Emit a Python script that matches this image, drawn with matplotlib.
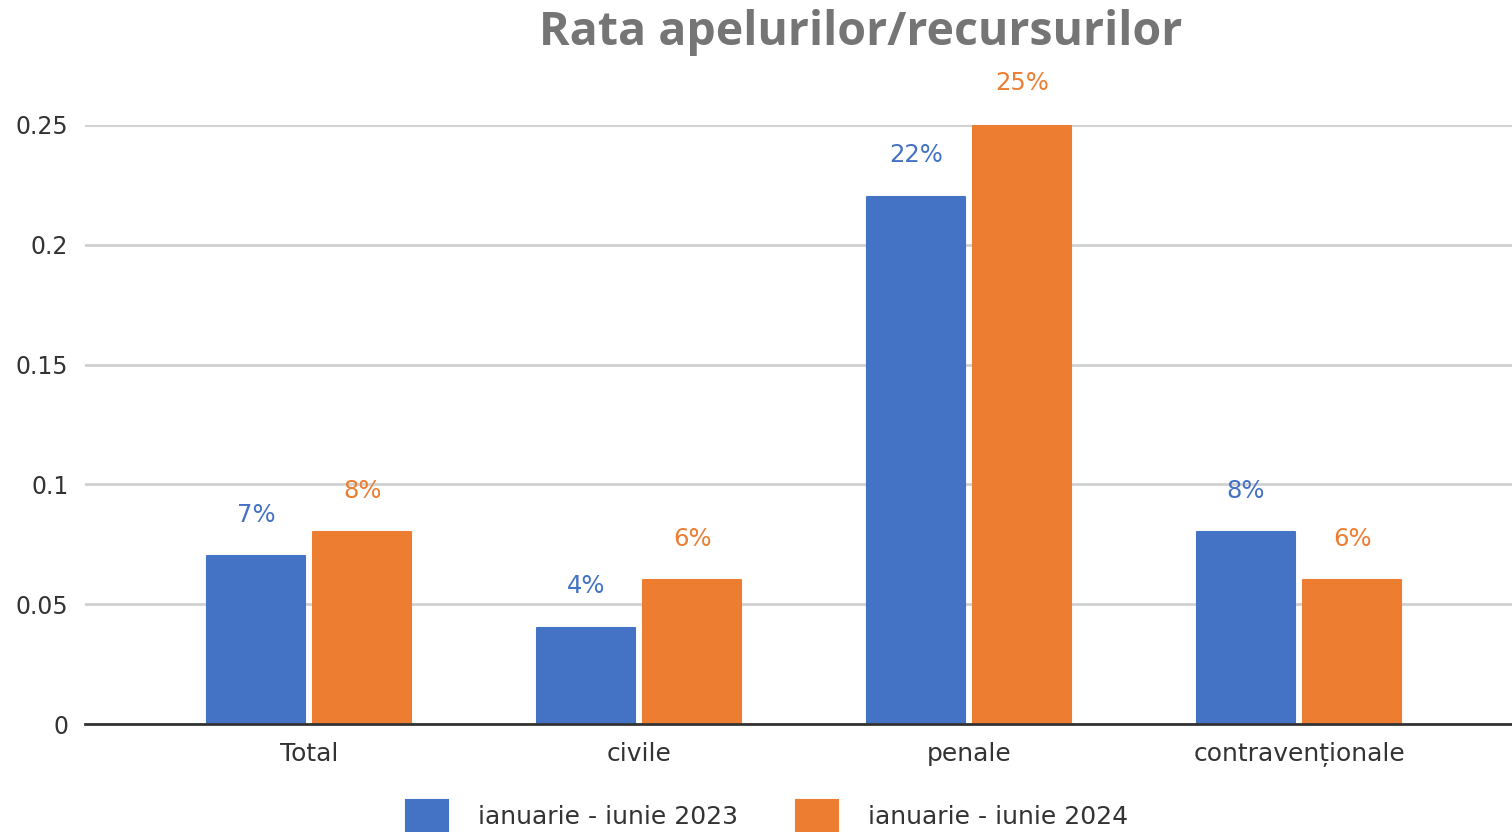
import matplotlib
matplotlib.use("Agg")
import matplotlib.pyplot as plt
import numpy as np

categories = ["Total", "civile", "penale", "contravenționale"]
series_names = ["ianuarie - iunie 2023", "ianuarie - iunie 2024"]
values_2023 = [0.07, 0.04, 0.22, 0.08]
values_2024 = [0.08, 0.06, 0.25, 0.06]
yticks = [0, 0.05, 0.1, 0.15, 0.2, 0.25]
ytick_labels = ["0", "0.05", "0.1", "0.15", "0.2", "0.25"]
title = "Rata apelurilor/recursurilor"

colors = ["#4472C4", "#ED7D31"]

plt.rcParams['font.family'] = ['DejaVu Sans']

fig = plt.figure(figsize=(15.12, 8.32), dpi=100)
ax = fig.add_axes([85/1512, (832-724)/832, 1 - 85/1512, (724-125)/832])

x = np.arange(len(categories))
w = 0.297
off = 0.161
for vals, c, name, sgn in [(values_2023, colors[0], series_names[0], -1),
                           (values_2024, colors[1], series_names[1], 1)]:
    ax.bar(x + sgn*off, vals, width=w, color=c, edgecolor=c,
           linewidth=1.5, joinstyle='round', label=name, zorder=3)
    for xi, v in zip(x + sgn*off, vals):
        ax.annotate(f"{round(v*100)}%", (xi, v), xytext=(0, 30),
                    textcoords='offset points', ha='center', va='center',
                    color=c, fontsize=17.5, annotation_clip=False)

ax.set_xlim(-0.679, 3.645)
ax.set_ylim(0, 0.25)
ax.set_yticks(yticks)
ax.set_yticklabels(ytick_labels, fontsize=17, color="#333333")
ax.set_xticks(x)
ax.set_xticklabels(categories, fontsize=18, color="#333333")
ax.tick_params(axis='y', length=0, pad=12)
ax.tick_params(axis='x', length=0, pad=13)
ax.grid(axis='y', color="#D0D0D0", linewidth=2, zorder=0)
for s in ["top", "right", "left"]:
    ax.spines[s].set_visible(False)
ax.spines["bottom"].set_color("#333333")
ax.spines["bottom"].set_linewidth(2)
ax.spines["bottom"].set_zorder(4)

fig.text(861/1512, 1 - 32/832, title, ha='center', va='center',
         fontsize=33.5, fontweight='bold', color="#757575", family='Open Sans')

leg = fig.legend(loc='center', bbox_to_anchor=(767/1512, 1 - 816/832), ncol=2,
                 frameon=False, fontsize=18, handlelength=1.68, handleheight=1.55,
                 columnspacing=2.3, handletextpad=1.2, labelcolor="#333333",
                 borderpad=0, borderaxespad=0)

fig.savefig("out.png", dpi=100)
